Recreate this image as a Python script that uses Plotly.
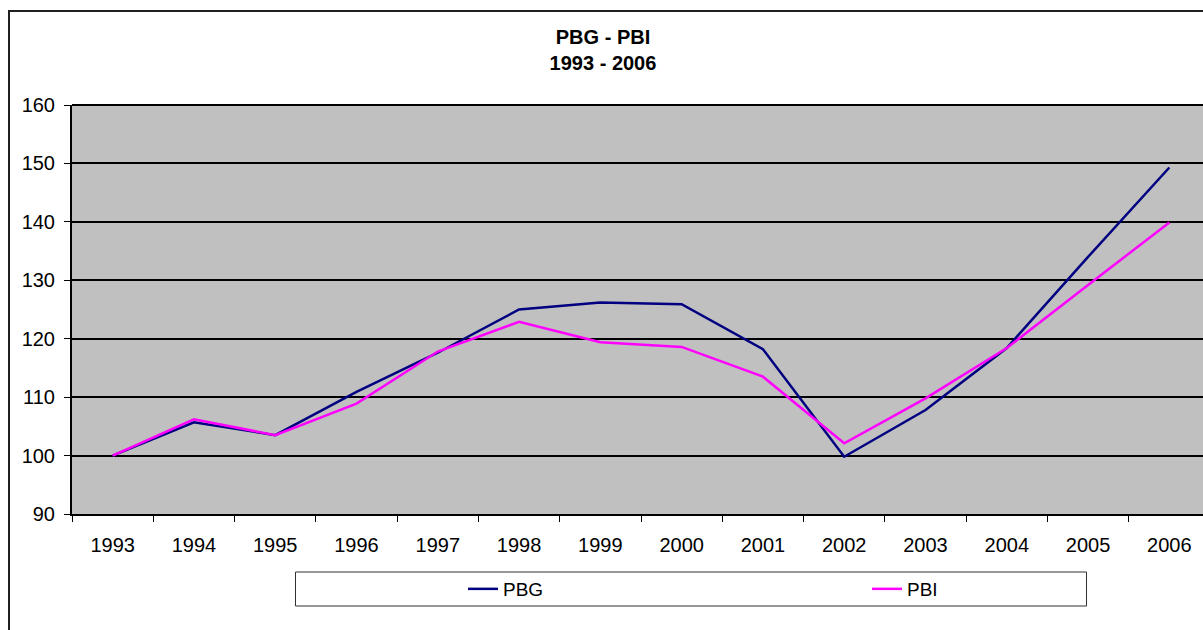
import plotly.graph_objects as go

years = ["1993", "1994", "1995", "1996", "1997", "1998", "1999",
         "2000", "2001", "2002", "2003", "2004", "2005", "2006"]
pbg = [100, 105.7, 103.5, 110.9, 117.6, 125.0, 126.2, 125.9, 118.2, 99.8, 107.8, 118.4, 134.0, 149.3]
pbi = [100, 106.2, 103.5, 108.9, 117.8, 122.9, 119.4, 118.6, 113.5, 102.1, 109.8, 118.4, 129.2, 139.9]

OFF = 0  # page body margin removed by post_script
SW, SH = 1203, 630           # screen size
W, H = SW - OFF, SH - OFF    # figure size
# plot area in screen coords
SL, ST, SB = 72, 105, 514
L, T, B = SL - OFF, ST - OFF, SB - OFF
PW = W - L
PH = B - T


def px_x(p):  # screen px -> paper
    return (p - OFF - L) / PW


def px_y(p):
    return (B - (p - OFF)) / PH


FONT = "Liberation Sans, Arial, sans-serif"

fig = go.Figure()
fig.add_trace(go.Scatter(x=years, y=pbg, name="PBG", mode="lines",
                         line=dict(color="#000080", width=2.5), legend="legend"))
fig.add_trace(go.Scatter(x=years, y=pbi, name="PBI", mode="lines",
                         line=dict(color="#FF00FF", width=2.5), legend="legend2"))

bin_w = 1138 / 14
leg_common = dict(orientation="h", xanchor="left", yanchor="middle",
                  bgcolor="rgba(0,0,0,0)", borderwidth=0,
                  font=dict(family=FONT, size=19, color="black"))
fig.update_layout(
    width=W, height=H,
    margin=dict(l=L, r=0, t=T, b=H - B, pad=0),
    paper_bgcolor="white",
    plot_bgcolor="#C0C0C0",
    font=dict(family=FONT, size=20, color="black"),
    title=dict(text="<b>PBG - PBI</b><br><b>1993 - 2006</b>",
               x=(603 - OFF) / W, xanchor="center", xref="container",
               y=1 - (44 - OFF) / H, yanchor="middle", yref="container",
               font=dict(family=FONT, size=20, color="black")),
    xaxis=dict(type="category", range=[-0.5, -0.5 + PW / bin_w],
               showgrid=False, showline=True, linecolor="black", linewidth=2,
               mirror=False, ticks="outside", tickson="boundaries",
               ticklen=6, tickwidth=1, tickcolor="black",
               ticklabelstandoff=12, tickfont=dict(size=20)),
    yaxis=dict(range=[90, 160], dtick=10, showgrid=True, gridcolor="black",
               gridwidth=2, showline=True, linecolor="black", linewidth=2,
               ticks="outside", ticklen=6, tickwidth=1, tickcolor="black",
               ticklabelstandoff=5, tickfont=dict(size=20), zeroline=False),
    legend=dict(x=px_x(463), y=px_y(589), **leg_common),
    legend2=dict(x=px_x(867), y=px_y(589), **leg_common),
    showlegend=True,
)

shapes = [
    # outer chart frame (cut off on right and bottom)
    dict(type="rect", xref="paper", yref="paper",
         x0=px_x(9), x1=px_x(1260), y0=px_y(700), y1=px_y(11),
         line=dict(color="#202020", width=2), fillcolor="rgba(0,0,0,0)", layer="below"),
    # top edge of plot area
    dict(type="line", xref="paper", yref="paper",
         x0=0, x1=1, y0=1, y1=1, line=dict(color="black", width=2)),
    # legend box
    dict(type="rect", xref="paper", yref="paper",
         x0=px_x(295.5), x1=px_x(1086.5), y0=px_y(606), y1=px_y(572),
         line=dict(color="#303030", width=1), fillcolor="white", layer="below"),
]
fig.update_layout(shapes=shapes)

fig.write_html(
    "out.html",
    config={"displayModeBar": False},
    post_script="document.body.style.margin='0';document.body.style.overflow='hidden';",
)
